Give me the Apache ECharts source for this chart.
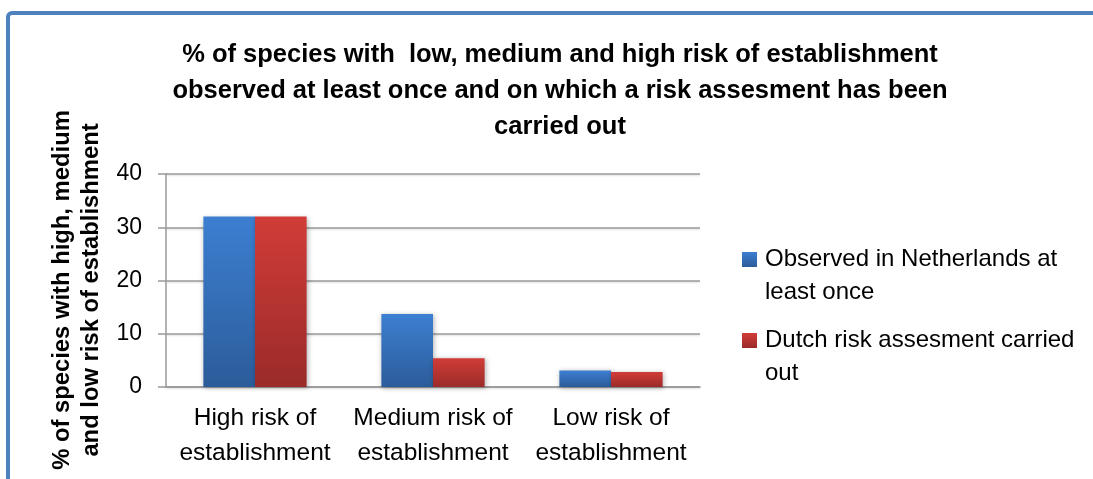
<!DOCTYPE html>
<html>
<head>
<meta charset="utf-8">
<style>html,body{margin:0;padding:0;background:#fff}#c{width:1093px;height:479px}</style>
<script src="https://cdn.jsdelivr.net/npm/echarts@6/dist/echarts.min.js"></script>
</head>
<body>
<div id="c"></div>
<script>
const categories = ['High risk of\nestablishment', 'Medium risk of\nestablishment', 'Low risk of\nestablishment'];
const observedNL = [32, 13.7, 3.1];
const dutchRA = [32, 5.4, 2.8];
const seriesNames = ['Observed in Netherlands at least once', 'Dutch risk assesment carried out'];
const legendLabels = ['Observed in Netherlands at\nleast once', 'Dutch risk assesment carried\nout'];
const yTicks = [0, 10, 20, 30, 40];
const titleText = '% of species with  low, medium and high risk of establishment\nobserved at least once and on which a risk assesment has been\ncarried out';
const yName = '% of species with high, medium\nand low risk of establishment';

const FONT = '"Liberation Sans", Arial, sans-serif';
const chart = echarts.init(document.getElementById('c'));
const grad = (a, b) => new echarts.graphic.LinearGradient(0, 0, 0, 1, [{offset: 0, color: a}, {offset: 1, color: b}]);

chart.setOption({
  animation: false,
  title: {
    text: titleText,
    left: 555, top: 32, textAlign: 'center',
    textStyle: {fontFamily: FONT, fontSize: 25.5, fontWeight: 'bold', color: '#000', lineHeight: 36}
  },
  graphic: [
    {type: 'rect', shape: {x: 8, y: 13, width: 1300, height: 700, r: 4}, style: {fill: 'none', stroke: '#4f81bd', lineWidth: 4}, silent: true},
    {type: 'text', x: 77, y: 290, rotation: Math.PI / 2,
     style: {text: yName, fontFamily: FONT, fontSize: 23.8, fontWeight: 'bold', fill: '#000', align: 'center', verticalAlign: 'middle', lineHeight: 29}}
  ],
  legend: {
    orient: 'vertical', left: 742, top: 210, padding: 0, itemGap: -18,
    itemWidth: 15, itemHeight: 15, icon: 'rect',
    data: seriesNames,
    formatter: n => '\n' + legendLabels[seriesNames.indexOf(n)],
    textStyle: {fontFamily: FONT, fontSize: 24, color: '#000', lineHeight: 33, padding: [0, 0, 0, 3]}
  },
  grid: {left: 166, right: 393, top: 174, bottom: 92, outerBoundsMode: 'none'},
  xAxis: {
    type: 'category', data: categories,
    axisLine: {lineStyle: {color: '#999', width: 1.5}},
    axisTick: {length: 8, lineStyle: {color: '#999', width: 1.5}},
    axisLabel: {fontFamily: FONT, fontSize: 24.5, color: '#000', lineHeight: 35, margin: 14, interval: 0}
  },
  yAxis: {
    type: 'value', min: 0, max: 40, interval: 10,
    axisLine: {show: true, lineStyle: {color: '#999', width: 1.5}},
    axisTick: {show: true, length: 8, lineStyle: {color: '#999', width: 1.5}},
    axisLabel: {fontFamily: FONT, fontSize: 23, color: '#000', margin: 24,
      formatter: v => yTicks.includes(v) ? String(v) : ''},
    splitLine: {lineStyle: {color: '#9a9a9a', width: 1.5, shadowColor: 'rgba(0,0,0,0.15)', shadowBlur: 2, shadowOffsetY: 1}}
  },
  series: [
    {name: seriesNames[0], type: 'bar', data: observedNL, barGap: '0%', barCategoryGap: '42%',
     itemStyle: {color: grad('#3c7fd1', '#2c5c9a'), shadowColor: 'rgba(0,0,0,0.3)', shadowBlur: 5, shadowOffsetX: 1, shadowOffsetY: 1}},
    {name: seriesNames[1], type: 'bar', data: dutchRA,
     itemStyle: {color: grad('#d13c38', '#9a2b29'), shadowColor: 'rgba(0,0,0,0.3)', shadowBlur: 5, shadowOffsetX: 1, shadowOffsetY: 1}}
  ]
});
</script>
</body>
</html>
